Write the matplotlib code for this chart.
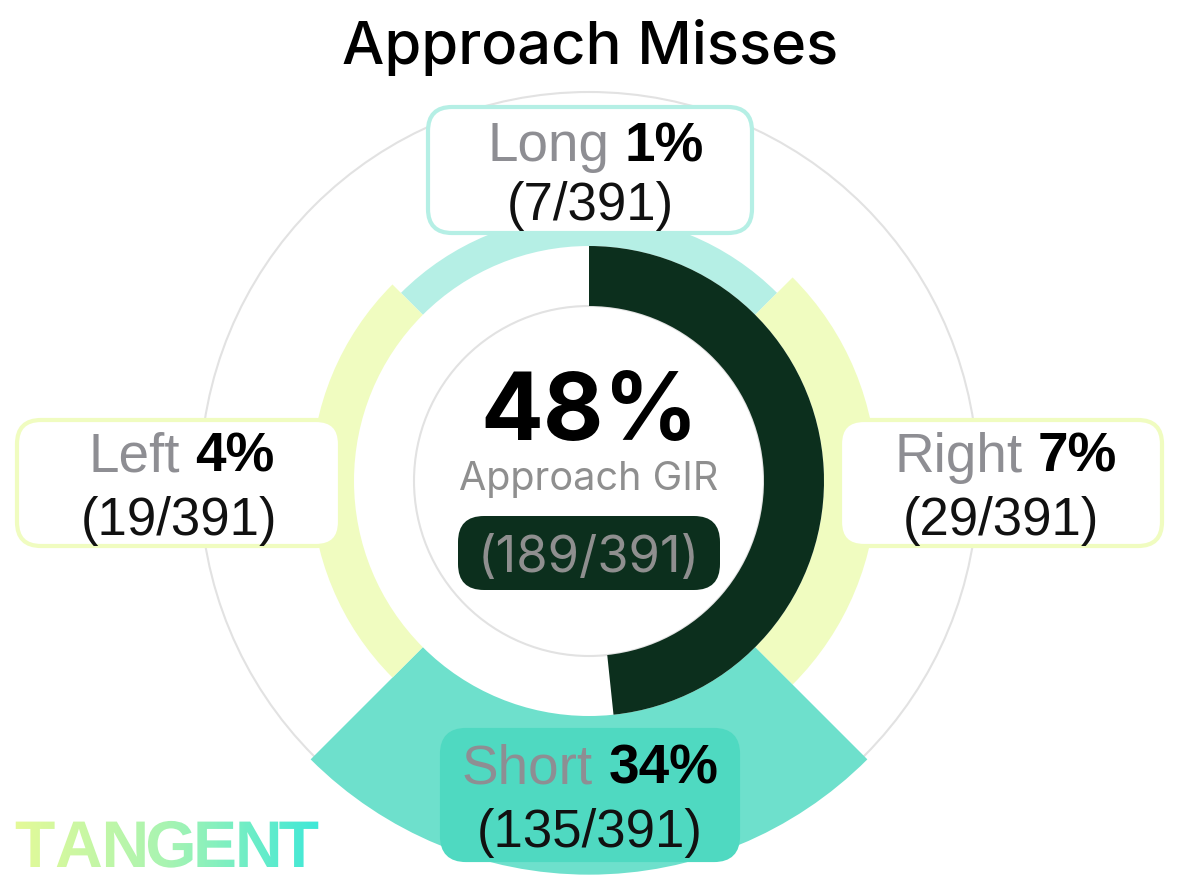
import numpy as np
import matplotlib
matplotlib.use("Agg")
import matplotlib.pyplot as plt
from matplotlib.patches import Wedge, Circle, FancyBboxPatch, PathPatch
from matplotlib.textpath import TextPath
from matplotlib.path import Path
from matplotlib.font_manager import FontProperties
from matplotlib.colors import LinearSegmentedColormap

# data
TITLE = "Approach Misses"
TOTAL = 391
GIR_HITS = 189
GIR_PCT_LABEL = "48%"
GIR_LABEL = "Approach GIR"
MISS_NAMES = ["Long", "Right", "Short", "Left"]
MISS_COUNTS = [7, 29, 135, 19]
MISS_PCT_LABELS = ["1%", "7%", "34%", "4%"]
LOGO = "TANGENT"

# styling / layout
W, H = 1179, 876
CX, CY = 589, 481            # chart centre (pixels, y down)
R_INNER = 175                # inner ring radius
R_GIR = 235                  # outer radius of the GIR ring
R_OUTER_GUIDE = 389
MISS_BASE = 24               # radial length of a 0% miss wedge
MISS_SCALE = 3.9             # pixels per percent
MISS_DIRS = [90, 0, 270, 180]
MISS_COLORS = ["#b5efe5", "#f0fcc0", "#6ee0cc", "#f0fcc0"]
# label boxes: x0, y0, x1, y1 (pixels, y down)
BOXES = [(428, 107, 752, 233), (840, 420, 1162, 546), (442, 730, 738, 860), (17, 420, 340, 546)]
BOX_FACE = ["white", "white", "#4fd9c1", "white"]
BOX_EDGE = ["#b5efe5", "#f0fcc0", "#4fd9c1", "#f0fcc0"]
LINE1_X_SHIFT = [6, 5, 0, 3]
LINE1_Y = [161, 472, 784, 472]
LINE2_Y = [220, 535, 847, 535]

DARK = "#0c2f1d"
GRAY = "#8e8e93"
GUIDE = "#e2e2e2"
LABEL_FONT = "Liberation Sans"
CENTER_FONT = "Inter"


def fy(y):
    return H - y


fig = plt.figure(figsize=(W / 100, H / 100), dpi=100)
ax = fig.add_axes([0, 0, 1, 1])
ax.set_xlim(0, W)
ax.set_ylim(0, H)
ax.axis("off")
renderer = fig.canvas.get_renderer()

c = (CX, fy(CY))

# guide circles
ax.add_patch(Circle(c, R_OUTER_GUIDE, fill=False, ec=GUIDE, lw=1.5, zorder=1))
ax.add_patch(Circle(c, R_INNER, fill=False, ec=GUIDE, lw=1.5, zorder=1))

# miss wedges
for name, cnt, d, col in zip(MISS_NAMES, MISS_COUNTS, MISS_DIRS, MISS_COLORS):
    pct = 100 * cnt / TOTAL
    r_out = R_GIR + MISS_BASE + MISS_SCALE * pct
    ax.add_patch(Wedge(c, r_out, d - 45, d + 45, width=r_out - R_GIR,
                       fc=col, ec="none", zorder=2))

# GIR arc, clockwise from 12 o'clock
sweep = 360 * GIR_HITS / TOTAL
ax.add_patch(Wedge(c, R_GIR, 90 - sweep, 90, width=R_GIR - R_INNER,
                   fc=DARK, ec="none", zorder=3))


def two_part(xc, y, name, pct, size):
    t1 = ax.text(0, fy(y), name, fontsize=size, color=GRAY, family=LABEL_FONT,
                 ha="left", va="baseline", zorder=6)
    t2 = ax.text(0, fy(y), pct, fontsize=size, color="black", weight="bold",
                 family=LABEL_FONT, ha="left", va="baseline", zorder=6)
    w1 = t1.get_window_extent(renderer).width
    w2 = t2.get_window_extent(renderer).width
    gap = size * 0.28 * 100 / 72
    x0 = xc - (w1 + gap + w2) / 2
    t1.set_x(x0)
    t2.set_x(x0 + w1 + gap)


# label boxes
for i, name in enumerate(MISS_NAMES):
    x0, y0, x1, y1 = BOXES[i]
    ax.add_patch(FancyBboxPatch((x0, fy(y1)), x1 - x0, y1 - y0,
                                boxstyle="round,pad=0,rounding_size=24",
                                fc=BOX_FACE[i], ec=BOX_EDGE[i], lw=3, zorder=4))
    xc = (x0 + x1) / 2
    two_part(xc + LINE1_X_SHIFT[i], LINE1_Y[i], name, MISS_PCT_LABELS[i], 39.5)
    ax.text(xc, fy(LINE2_Y[i]), f"({MISS_COUNTS[i]}/{TOTAL})", fontsize=38,
            color="#111111", family=LABEL_FONT, ha="center", va="baseline", zorder=6)

# centre text
ax.text(CX, fy(440), GIR_PCT_LABEL, fontsize=67, weight="bold", color="black",
        family=CENTER_FONT, ha="center", va="baseline", zorder=6)
ax.text(CX, fy(490), GIR_LABEL, fontsize=28.5, color="#8f8f8f",
        family=CENTER_FONT, ha="center", va="baseline", zorder=6)
ax.add_patch(FancyBboxPatch((458, fy(590)), 262, 74,
                            boxstyle="round,pad=0,rounding_size=26",
                            fc=DARK, ec="none", zorder=4))
ax.text(CX, fy(572), f"({GIR_HITS}/{TOTAL})", fontsize=36.5, color="#8f8f8f",
        family=CENTER_FONT, ha="center", va="baseline", zorder=6)

# title
ax.text(590, fy(64), TITLE, fontsize=43, color="black", family=CENTER_FONT,
        weight="medium", ha="center", va="baseline", zorder=6)

# gradient logo, letters set tight
prop = FontProperties(family="Liberation Sans", weight="bold")
paths = []
x = 15
for ch in LOGO:
    tp = TextPath((x, fy(867)), ch, size=66, prop=prop)
    paths.append(tp)
    x = tp.get_extents().x1 + 0.5
logo = PathPatch(Path.make_compound_path(*paths), fc="none", ec="none")
ax.add_patch(logo)
cmap = LinearSegmentedColormap.from_list("tangent", ["#e4fa98", "#a8f4b2", "#3ee8d8"])
grad = np.linspace(0, 1, 256).reshape(1, -1)
im = ax.imshow(grad, extent=[15, x, fy(870), fy(816)], cmap=cmap,
               aspect="auto", zorder=5)
im.set_clip_path(logo)

ax.set_xlim(0, W)
ax.set_ylim(0, H)
fig.savefig("out.png", dpi=100)
